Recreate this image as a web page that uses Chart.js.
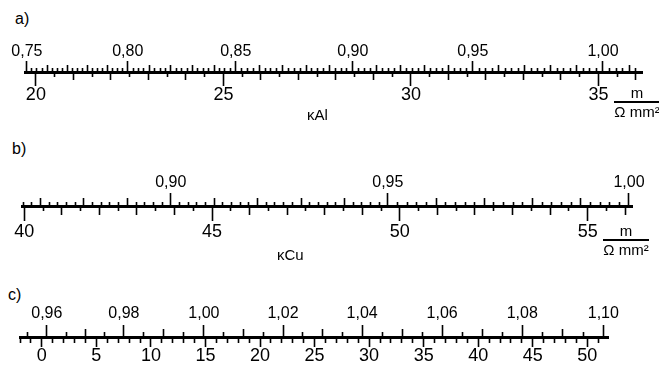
<!DOCTYPE html>
<html>
<head>
<meta charset="utf-8">
<title>Leitfähigkeits-Skalen</title>
<script src="https://cdn.jsdelivr.net/npm/chart.js@4.4.1/dist/chart.umd.min.js"></script>
<style>
  body { margin: 0; background: #fff; }
  #page { position: relative; width: 659px; height: 370px; overflow: hidden;
          font-family: "Liberation Sans", Arial, Helvetica, sans-serif; color: #000; }
  canvas { position: absolute; left: 0; }
  .tag { position: absolute; font-size: 16px; line-height: 16px; }
  .kap { position: absolute; font-size: 15px; line-height: 15px; }
  .frac { position: absolute; width: 46px; text-align: center; font-size: 15px; line-height: 14px; }
  .frac .bar { height: 1.5px; background: #000; margin: 1px 0 2px; }
</style>
</head>
<body>
<div id="page">
  <div class="tag" style="left:15px;top:11px">a)</div>
  <canvas id="scaleA" width="659" height="75" style="top:38px"></canvas>
  <div class="kap" style="left:307px;top:107px">κAl</div>
  <div class="frac" style="left:614px;top:86px"><div>m</div><div class="bar"></div><div>Ω mm²</div></div>

  <div class="tag" style="left:12px;top:141px">b)</div>
  <canvas id="scaleB" width="659" height="75" style="top:172px"></canvas>
  <div class="kap" style="left:277px;top:247px">κCu</div>
  <div class="frac" style="left:603px;top:224px"><div>m</div><div class="bar"></div><div>Ω mm²</div></div>

  <div class="tag" style="left:8px;top:287px">c)</div>
  <canvas id="scaleC" width="659" height="75" style="top:303px"></canvas>
</div>

<script>
// a) aluminium: conductivity below, factor above (factor positions read on the kappa scale)
const alKappa = [20, 25, 30, 35];
const alFactor = [0.75, 0.80, 0.85, 0.90, 0.95, 1.00];
const alFactorAt = [19.76, 22.45, 25.33, 28.45, 31.65, 35.12];
const alRange = [19.71, 36.16];

// b) copper
const cuKappa = [40, 45, 50, 55];
const cuFactor = [0.90, 0.95, 1.00];
const cuFactorAt = [43.90, 49.68, 56.10];
const cuRange = [39.94, 56.18];

// c) temperature scale with correction factor above
const tempValues = [0, 5, 10, 15, 20, 25, 30, 35, 40, 45, 50];
const tempFactor = [0.96, 0.98, 1.00, 1.02, 1.04, 1.06, 1.08, 1.10];
const tempFactorAt = [0.46, 7.52, 14.86, 22.11, 29.36, 36.70, 44.04, 51.47];
const tempRange = [-2.0, 51.9];

const INK = '#000';
Chart.defaults.font.family = '"Liberation Sans", Arial, Helvetica, sans-serif';

const near = (a, b) => Math.abs(a - b) < 1e-6;
const onStep = (v, s) => near(v / s, Math.round(v / s));
const comma = v => v.toFixed(2).replace('.', ',');

// position of a factor value on the lower scale, between the read marks
function placeOn(vals, at, f) {
  let i = 0;
  while (i < vals.length - 2 && f > vals[i + 1]) i++;
  return at[i] + (f - vals[i]) * (at[i + 1] - at[i]) / (vals[i + 1] - vals[i]);
}

function lowerTicks(range, labels, step, mid, len) {
  const out = [];
  for (let n = Math.ceil(range[0] / step - 1e-9); n * step <= range[1] + 1e-9; n++) {
    const v = +(n * step).toFixed(4);
    const lab = labels.find(l => near(l, v));
    out.push({
      value: v,
      label: lab !== undefined ? String(lab) : '',
      len: lab !== undefined ? len[0] : (onStep(v, mid) ? len[1] : len[2])
    });
  }
  return out;
}

function upperTicks(range, vals, at, step, mid, len) {
  const out = [];
  const lo = Math.round((vals[0] - 0.1) / step);
  const hi = Math.round((vals[vals.length - 1] + 0.1) / step);
  for (let n = lo; n <= hi; n++) {
    const f = n * step;
    const pos = placeOn(vals, at, f);
    if (pos < range[0] || pos > range[1]) continue;
    const lab = vals.some(v => near(v, f));
    out.push({
      value: pos,
      label: lab ? comma(f) : '',
      len: lab ? len[0] : (onStep(f, mid) ? len[1] : len[2])
    });
  }
  return out;
}

function axis(position, range, list, tl, pad, size, height) {
  return {
    type: 'linear',
    axis: 'x',
    position: position,
    min: range[0],
    max: range[1],
    bounds: 'data',
    offset: false,
    afterBuildTicks: s => { s.ticks = list.map(t => ({ value: t.value })); },
    afterFit: s => { s.height = height; },
    border: { display: true, color: INK, width: 2 },
    grid: {
      drawOnChartArea: false,
      drawTicks: true,
      tickLength: tl,
      tickColor: INK,
      tickWidth: 1.6,
      tickBorderDash: c => {
        const t = list[c.index];
        const len = t ? t.len : 0;
        return position === 'top' ? [0, Math.max(tl - 1 - len, 0), len, 1000] : [len, 1000];
      }
    },
    ticks: {
      autoSkip: false,
      maxRotation: 0,
      minRotation: 0,
      padding: pad,
      color: INK,
      font: { size: size, lineHeight: 1 },
      callback: (v, i) => (list[i] ? list[i].label : '')
    }
  };
}

function drawScale(id, padL, padR, bottom, top) {
  new Chart(document.getElementById(id), {
    type: 'scatter',
    data: { datasets: [] },
    options: {
      responsive: false,
      animation: false,
      events: [],
      layout: { padding: { left: padL, right: padR, top: 0, bottom: 0 } },
      plugins: { legend: { display: false }, tooltip: { enabled: false } },
      scales: { x: bottom, xt: top, y: { display: false } }
    }
  });
}

drawScale('scaleA', 25, 17,
  axis('bottom', alRange, lowerTicks(alRange, alKappa, 0.5, 1, [13, 6, 3]), 13, 0, 18, 40),
  axis('top', alRange, upperTicks(alRange, alFactor, alFactorAt, 0.0025, 0.01, [11, 6, 3]), 11, 1.5, 16, 34));

drawScale('scaleB', 22, 27,
  axis('bottom', cuRange, lowerTicks(cuRange, cuKappa, 0.5, 1, [14, 7, 3]), 14, 2.5, 18, 40),
  axis('top', cuRange, upperTicks(cuRange, cuFactor, cuFactorAt, 0.002, 0.01, [13, 7, 3]), 13, 2.5, 16, 34));

drawScale('scaleC', 20, 51,
  axis('bottom', tempRange, lowerTicks(tempRange, tempValues, 1, 5, [9, 4, 4]), 9, 0.5, 18, 40),
  axis('top', tempRange, upperTicks(tempRange, tempFactor, tempFactorAt, 0.005, 0.01, [12, 7, 4]), 12, 3, 16, 34));
</script>
</body>
</html>
